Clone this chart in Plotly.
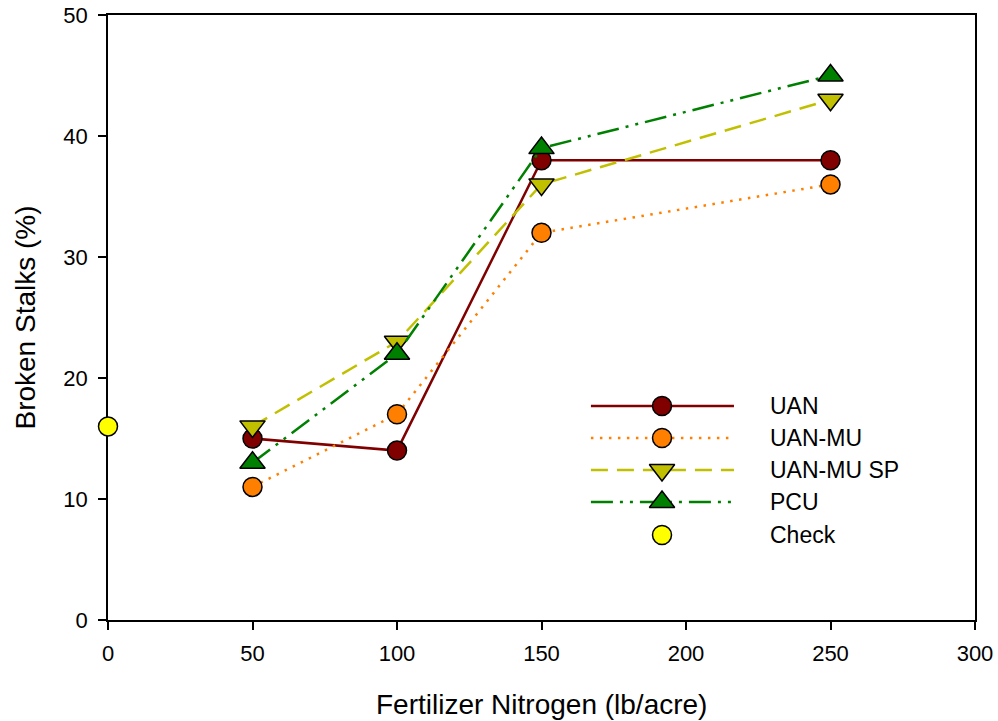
import plotly.graph_objects as go

# ---- data ----
nitrogen = [50, 100, 150, 250]
uan = [15, 14, 38, 38]
uan_mu = [11, 17, 32, 36]
uan_mu_sp = [16, 23, 36, 43]
pcu = [13, 22, 39, 45]
check_x = [0]
check_y = [16]

series_names = ["UAN", "UAN-MU", "UAN-MU SP", "PCU", "Check"]
x_ticks = [0, 50, 100, 150, 200, 250, 300]
y_ticks = [0, 10, 20, 30, 40, 50]

FONT = "Liberation Sans, Arial, sans-serif"

styles = {
    "UAN": dict(color="#800000", dash="solid", symbol="circle", size=19),
    "UAN-MU": dict(color="#FF8000", dash="2.5px,6.5px", symbol="circle", size=19),
    "UAN-MU SP": dict(color="#C0C000", dash="17px,9px", symbol="triangle-down", size=22),
    "PCU": dict(color="#008000", dash="22px,7px,3px,7px,3px,7px", symbol="triangle-up", size=22),
    "Check": dict(color="#FFFF00", dash=None, symbol="circle", size=19),
}

fig = go.Figure()

for name, ys in [("UAN", uan), ("UAN-MU", uan_mu), ("UAN-MU SP", uan_mu_sp), ("PCU", pcu)]:
    s = styles[name]
    fig.add_trace(go.Scatter(
        x=nitrogen, y=ys, mode="lines+markers", name=name,
        line=dict(color=s["color"], width=2.5, dash=s["dash"]),
        marker=dict(symbol=s["symbol"], size=s["size"], color=s["color"],
                    line=dict(color="black", width=1.5)),
        cliponaxis=False, showlegend=False,
    ))

s = styles["Check"]
fig.add_trace(go.Scatter(
    x=check_x, y=check_y, mode="markers", name="Check",
    marker=dict(symbol=s["symbol"], size=s["size"], color=s["color"],
                line=dict(color="black", width=1.5)),
    cliponaxis=False, showlegend=False,
))

# ---- custom legend (overlay axes in paper-like units) ----
leg_x0, leg_x1, leg_xm, leg_xt = 0.557, 0.722, 0.639, 0.7610
leg_rows = [0.3537, 0.3008, 0.2479, 0.1950, 0.1405]
annotations = []
for name, yy in zip(series_names, leg_rows):
    s = styles[name]
    if s["dash"] is not None:
        fig.add_trace(go.Scatter(
            x=[leg_x0, leg_x1], y=[yy, yy], mode="lines", xaxis="x2", yaxis="y2",
            line=dict(color=s["color"], width=2.5, dash=s["dash"]),
            showlegend=False, hoverinfo="skip", cliponaxis=False,
        ))
    fig.add_trace(go.Scatter(
        x=[leg_xm], y=[yy], mode="markers", xaxis="x2", yaxis="y2",
        marker=dict(symbol=s["symbol"], size=s["size"], color=s["color"],
                    line=dict(color="black", width=1.5)),
        showlegend=False, hoverinfo="skip", cliponaxis=False,
    ))
    annotations.append(dict(x=leg_xt, y=yy, xref="x2", yref="y2", text=name,
                            showarrow=False, xanchor="left", yanchor="middle",
                            font=dict(family=FONT, size=23, color="black")))

# axis titles as annotations
annotations.append(dict(x=0.5, y=-0.139, xref="paper", yref="paper",
                        text="Fertilizer Nitrogen (lb/acre)", showarrow=False,
                        xanchor="center", yanchor="middle",
                        font=dict(family=FONT, size=28, color="black")))
annotations.append(dict(x=-0.0957, y=0.5, xref="paper", yref="paper",
                        text="Broken Stalks (%)", showarrow=False, textangle=-90,
                        xanchor="center", yanchor="middle",
                        font=dict(family=FONT, size=28, color="black")))

fig.update_layout(
    width=998, height=721,
    margin=dict(l=108, r=23, t=15, b=101),
    paper_bgcolor="white", plot_bgcolor="white",
    font=dict(family=FONT, color="black"),
    showlegend=False,
    hovermode=False,
    annotations=annotations,
    xaxis=dict(
        range=[0, 300], tickvals=x_ticks, ticktext=[str(v) for v in x_ticks],
        ticks="outside", ticklen=8, tickwidth=1.5, tickcolor="black",
        showline=True, linecolor="black", linewidth=1.5, mirror=True,
        showgrid=False, zeroline=False, layer="below traces",
        tickfont=dict(family=FONT, size=22), ticklabelstandoff=5,
        ticklabeloverflow="allow", automargin=False,
    ),
    yaxis=dict(
        range=[0, 50], tickvals=y_ticks, ticktext=[str(v) for v in y_ticks],
        ticks="outside", ticklen=8, tickwidth=1.5, tickcolor="black",
        showline=True, linecolor="black", linewidth=1.5, mirror=True,
        showgrid=False, zeroline=False, layer="below traces",
        tickfont=dict(family=FONT, size=22), ticklabelstandoff=6,
        ticklabeloverflow="allow", automargin=False,
    ),
    xaxis2=dict(overlaying="x", range=[0, 1], visible=False, fixedrange=True),
    yaxis2=dict(overlaying="y", range=[0, 1], visible=False, fixedrange=True),
)

fig.write_html("out.html", config={"displayModeBar": False},
               post_script="document.body.style.margin='0';document.body.style.padding='0';")
